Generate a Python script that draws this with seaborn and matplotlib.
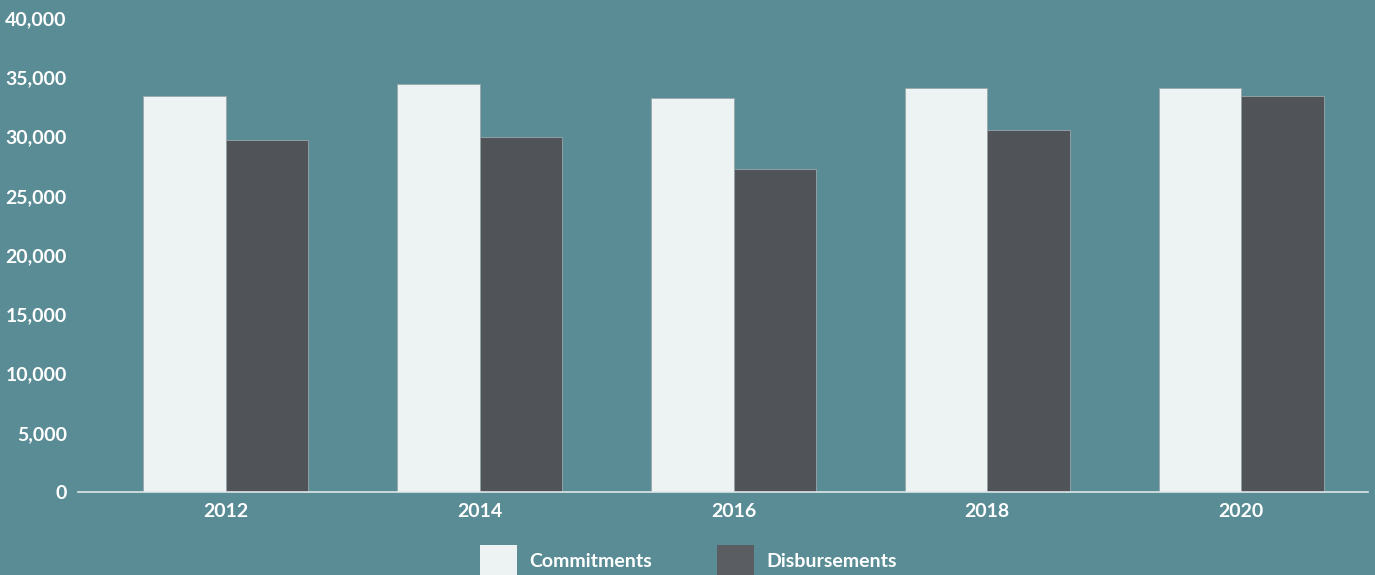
import matplotlib
matplotlib.use("Agg")
import matplotlib.pyplot as plt
from matplotlib.patches import Patch
import seaborn as sns
import pandas as pd

years = ["2012", "2014", "2016", "2018", "2020"]
commitments = [33400, 34400, 33250, 34100, 34100]
disbursements = [29700, 30000, 27300, 30550, 33400]
series_names = ["Commitments", "Disbursements"]
yticks = [0, 5000, 10000, 15000, 20000, 25000, 30000, 35000, 40000]

df = pd.DataFrame({
    "year": years * 2,
    "value": commitments + disbursements,
    "series": [series_names[0]] * len(years) + [series_names[1]] * len(years),
})

bg = "#5a8c95"
colors = {"Commitments": "#edf2f3", "Disbursements": "#505458"}

sns.set_theme(style="white")
plt.rcParams["font.family"] = ["Lato", "DejaVu Sans"]

fig = plt.figure(figsize=(13.75, 5.75), dpi=100, facecolor=bg)
ax = fig.add_axes([0.0567, 0.1443, 0.9382, 0.8244])
ax.set_facecolor(bg)

sns.barplot(data=df, x="year", y="value", hue="series", palette=colors,
            width=0.65, saturation=1, legend=False, ax=ax,
            edgecolor="#9aa7ab", linewidth=0.6, errorbar=None)

ax.set_ylim(0, 40000)
ax.set_xlim(-0.583, 4.5)
ax.set_yticks(yticks)
ax.set_yticklabels([f"{v:,}" for v in yticks])
ax.set_xlabel("")
ax.set_ylabel("")
for s in ["top", "right", "left"]:
    ax.spines[s].set_visible(False)
ax.spines["bottom"].set_color("#dde7e9")
ax.spines["bottom"].set_linewidth(1.2)
ax.tick_params(axis="y", colors="#8fb0b6", length=3, width=1, pad=5,
               labelcolor="white", labelsize=14)
ax.tick_params(axis="x", length=0, pad=8, labelcolor="white", labelsize=14)
for lbl in ax.get_xticklabels() + ax.get_yticklabels():
    lbl.set_fontweight("bold")

handles = [Patch(facecolor=colors["Commitments"], edgecolor="none"),
           Patch(facecolor="#5a5d62", edgecolor="none")]
leg = fig.legend(handles, series_names, loc="upper center",
                 bbox_to_anchor=(0.5005, 0.082), ncol=2, frameon=False,
                 fontsize=14, handlelength=1.9, handleheight=2.0,
                 handletextpad=0.62, columnspacing=3.35)
for t in leg.get_texts():
    t.set_color("white")
    t.set_fontweight("bold")

fig.savefig("out.png", dpi=100, facecolor=bg)
